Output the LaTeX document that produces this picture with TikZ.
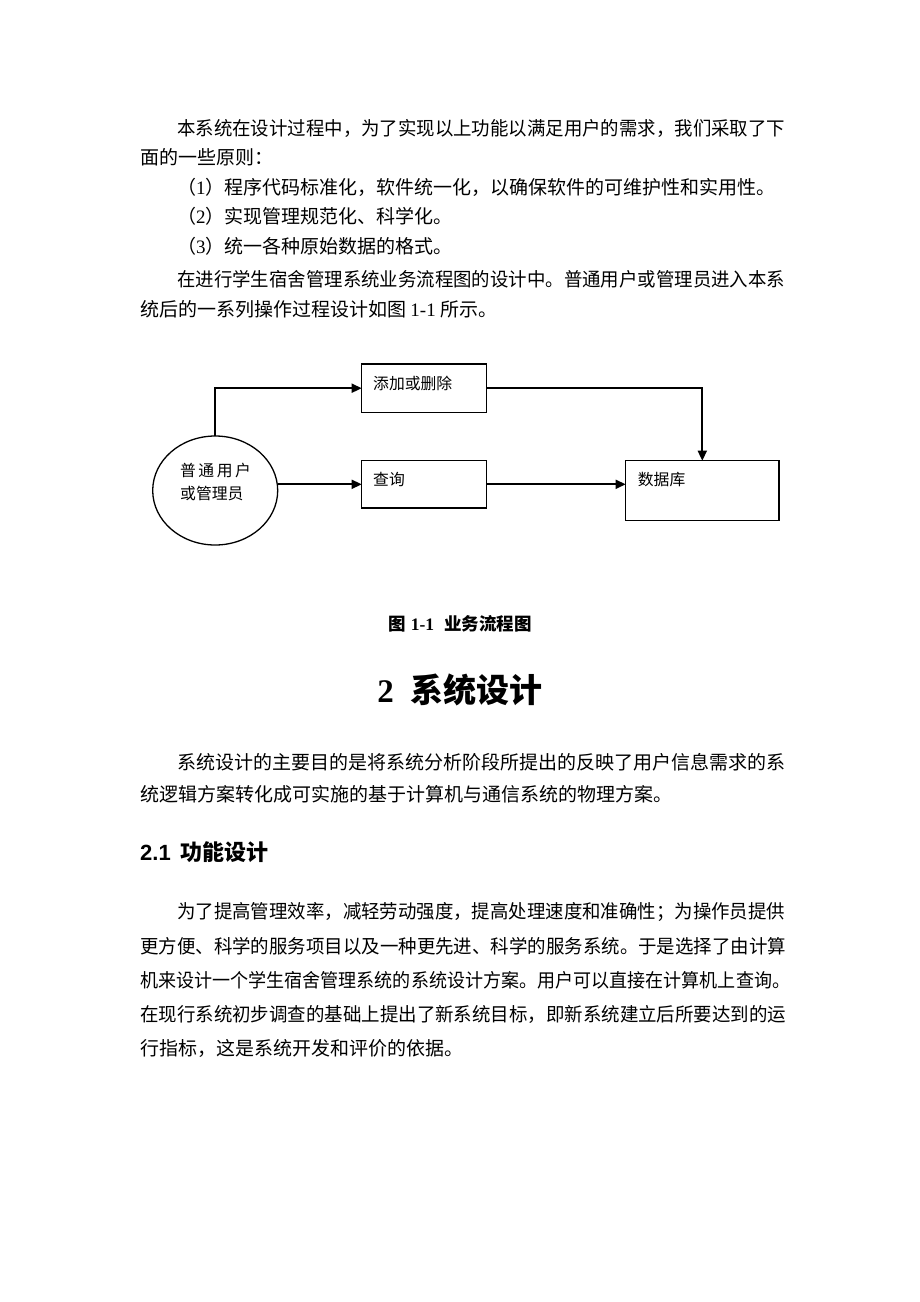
\documentclass[tikz,border=0pt]{standalone}
\usepackage{fontspec}
\usepackage{graphicx}
\usetikzlibrary{arrows.meta,shapes.geometric}
\setmainfont{Liberation Serif}
\newfontfamily\cjk{Noto Sans CJK SC}
\newfontfamily\arialf{Liberation Sans}
\newcommand\fitw[2]{\resizebox{#1}{\height}{#2}}
\tikzset{
  body/.style={anchor=west, inner sep=0pt, font=\cjk\fontsize{19}{19}\selectfont},
  dtext/.style={anchor=west, inner sep=0pt, font=\cjk\fontsize{15.8}{23}\selectfont, align=left},
  boxnode/.style={draw, line width=1.3pt, inner sep=0pt, outer sep=0pt, rectangle},
  conn/.style={line width=1.7pt, -{Triangle[length=10pt,width=9pt]}},
}
\begin{document}
\begin{tikzpicture}[x=1pt,y=-1pt]
\useasboundingbox (0,0) rectangle (920,1302);
\fill[white] (0,0) rectangle (920,1302);

% ---- paragraph 1
\node[body] (p1a) at (177,128) {\fitw{608pt}{本系统在设计过程中，为了实现以上功能以满足用户的需求，我们采取了下}};
\node[body] (p1b) at (140,157.5) {面的一些原则：};
\node[body] (p1c) at (177,187) {（{\rmfamily 1}）程序代码标准化，软件统一化，以确保软件的可维护性和实用性。};
\node[body] (p1d) at (177,216.5) {（{\rmfamily 2}）实现管理规范化、科学化。};
\node[body] (p1e) at (177,246) {（{\rmfamily 3}）统一各种原始数据的格式。};
\node[body] (p1f) at (177,279) {\fitw{608pt}{在进行学生宿舍管理系统业务流程图的设计中。普通用户或管理员进入本系}};
\node[body] (p1g) at (140,309) {统后的一系列操作过程设计如图~{\rmfamily 1-1}~所示。};

% ---- diagram
\node[draw, ellipse, line width=1.3pt, minimum width=125pt, minimum height=109pt, inner sep=0pt, outer sep=0pt] (user) at (215.2,490.5) {};
\node[dtext] (usert) at (180,481.5) {普\hspace{2.5pt}通\hspace{2.5pt}用\hspace{2.5pt}户\\或管理员};
\node[boxnode, minimum width=125pt, minimum height=48.3pt] (add) at (424.2,388.2) {};
\node[dtext] (addt) at (373,383) {添加或删除};
\node[boxnode, minimum width=125pt, minimum height=47.3pt] (query) at (424.2,484.3) {};
\node[dtext] (queryt) at (373,479) {查询};
\node[boxnode, minimum width=153.3pt, minimum height=60pt] (db) at (702.3,490.7) {};
\node[dtext] (dbt) at (637.7,480) {数据库};

\draw[conn] (user.north) |- (add.west);
\draw[conn] (add.east) -| (db.north);
\draw[conn] (query.west -| user.east) -- (query.west);
\draw[conn] (query.east) -- (query.east -| db.west);

% ---- caption and title
\node[inner sep=0pt, font=\fontsize{17.5}{17.5}\selectfont\bfseries] (cap) at (460,624)
  {{\cjk\bfseries 图}\hspace{5pt}1-1\hspace{10pt}{\cjk\bfseries 业务流程图}};
\node[inner sep=0pt, font=\fontsize{33}{33}\selectfont\bfseries] (title) at (460,690)
  {2\hspace{17pt}{\cjk\bfseries 系统设计}};

% ---- paragraph 2
\node[body] (p2a) at (177,762) {\fitw{608pt}{系统设计的主要目的是将系统分析阶段所提出的反映了用户信息需求的系}};
\node[body] (p2b) at (140,794) {统逻辑方案转化成可实施的基于计算机与通信系统的物理方案。};

% ---- section heading
\node[anchor=west, inner sep=0pt, font=\fontsize{22}{22}\selectfont] (sec) at (140,852)
  {{\arialf\bfseries 2.1}\hspace{10pt}{\cjk\bfseries 功能设计}};

% ---- paragraph 3
\node[body] (p3a) at (177,912) {\fitw{608pt}{为了提高管理效率，减轻劳动强度，提高处理速度和准确性；为操作员提供}};
\node[body] (p3b) at (140,946) {\fitw{646pt}{更方便、科学的服务项目以及一种更先进、科学的服务系统。于是选择了由计算}};
\node[body] (p3c) at (140,980) {\fitw{650pt}{机来设计一个学生宿舍管理系统的系统设计方案。用户可以直接在计算机上查询。}};
\node[body] (p3d) at (140,1014) {\fitw{646pt}{在现行系统初步调查的基础上提出了新系统目标，即新系统建立后所要达到的运}};
\node[body] (p3e) at (140,1048) {行指标，这是系统开发和评价的依据。};
\end{tikzpicture}
\end{document}
